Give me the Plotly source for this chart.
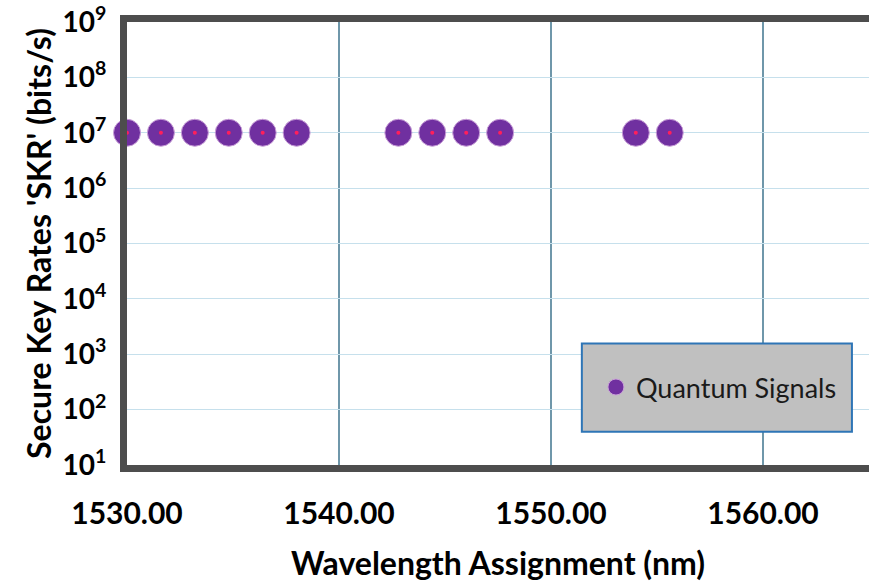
import plotly.graph_objects as go

# Quantum channel wavelengths (nm) and their secure key rates (bits/s)
wavelengths = [1530.0, 1531.6, 1533.2, 1534.8, 1536.4, 1538.0,
               1542.8, 1544.4, 1546.0, 1547.6,
               1554.0, 1555.6]
skr = [1e7, 1e7, 1e7, 1e7, 1e7, 1e7,
       1e7, 1e7, 1e7, 1e7,
       1e7, 1e7]

x_ticks = [1530, 1540, 1550, 1560]
x_ticktext = ['1530.00', '1540.00', '1550.00', '1560.00']
y_ticks = [1e1, 1e2, 1e3, 1e4, 1e5, 1e6, 1e7, 1e8, 1e9]
y_ticktext = ['10<sup>%d</sup>' % k for k in range(1, 10)]

FONT = 'Lato'

fig = go.Figure()

fig.add_trace(go.Scatter(
    x=wavelengths, y=skr,
    mode='markers',
    name='Quantum Signals',
    marker=dict(size=27, color='#7030a0', line=dict(width=1, color='#c9a0d8')),
    cliponaxis=False,
))
# small red centre of each marker
fig.add_trace(go.Scatter(
    x=wavelengths, y=skr,
    mode='markers',
    showlegend=False,
    hoverinfo='skip',
    marker=dict(size=4, color='#ff1f5b'),
    cliponaxis=False,
))

# grey legend box
fig.add_shape(type='rect', xref='paper', yref='paper',
              x0=0.613, x1=0.977, y0=0.075, y1=0.274,
              fillcolor='#c0c0c0', line=dict(color='#2e75b6', width=2),
              layer='above')

fig.update_layout(
    width=869, height=584,
    margin=dict(l=127, r=0, t=22, b=119, autoexpand=False),
    paper_bgcolor='white',
    plot_bgcolor='white',
    font=dict(family=FONT, color='black'),
    showlegend=True,
    legend=dict(x=0.632, y=0.175, xanchor='left', yanchor='middle',
                bgcolor='rgba(0,0,0,0)', borderwidth=0,
                font=dict(family=FONT, size=27, color='#1a1a1a'),
                itemsizing='trace'),
)

fig.update_xaxes(
    range=[1530, 1565],
    tickvals=x_ticks, ticktext=x_ticktext,
    tickfont=dict(family=FONT, size=30, color='black', weight='bold'),
    ticks='', ticklabelstandoff=16, automargin=False,
    showgrid=True, gridcolor='#6f97aa', gridwidth=1.5,
    showline=True, linecolor='#4d4d4d', linewidth=7, mirror=True,
    zeroline=False,
    title=dict(text='Wavelength Assignment (nm)', standoff=26,
               font=dict(family=FONT, size=32, color='black', weight='bold')),
)

fig.update_yaxes(
    type='log', range=[1, 9],
    tickvals=y_ticks, ticktext=y_ticktext,
    tickfont=dict(family=FONT, size=28, color='black', weight='bold'),
    ticks='', ticklabelstandoff=8, automargin=False,
    ticklabeloverflow='allow',
    showgrid=True, gridcolor='#c6e0ec', gridwidth=1,
    showline=True, linecolor='#4d4d4d', linewidth=7,
    zeroline=False,
    title=dict(text="Secure Key Rates 'SKR' (bits/s)", standoff=4,
               font=dict(family=FONT, size=32, color='black', weight='bold')),
)

# the default page has an 8px body margin; remove it so the figure fills the window
fig.write_html('out.html', config={'displayModeBar': False},
               post_script="document.body.style.margin='0';")
